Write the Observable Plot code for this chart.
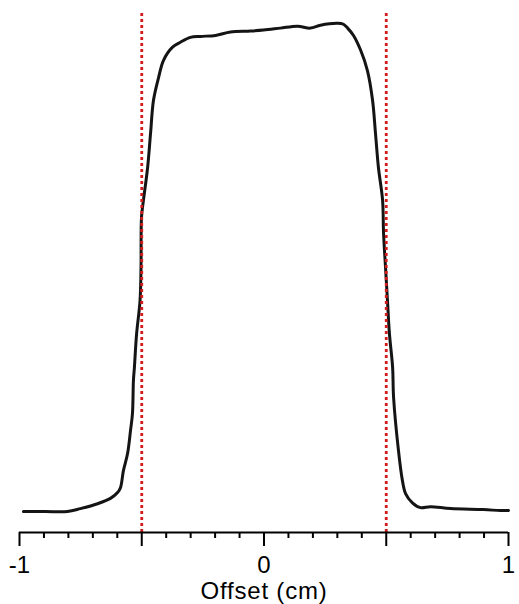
<!DOCTYPE html>
<html>
<head>
<meta charset="utf-8">
<script src="https://cdn.jsdelivr.net/npm/d3@7"></script>
<script src="https://cdn.jsdelivr.net/npm/@observablehq/plot@0.6"></script>
<style>
  html, body { margin: 0; padding: 0; background: #fff; }
  #chart { width: 519px; height: 604px; }
</style>
</head>
<body>
<div id="chart"></div>
<script>
// Profile: offset (cm) vs relative signal
const offsetCm = [-0.984, -0.894, -0.804, -0.751, -0.681, -0.628, -0.599, -0.587, -0.575, -0.558, -0.546, -0.538, -0.534, -0.530, -0.521, -0.507, -0.503, -0.501, -0.493, -0.476, -0.464, -0.452, -0.431, -0.411, -0.374, -0.342, -0.301, -0.260, -0.198, -0.137, -0.055, -0.002, 0.067, 0.137, 0.190, 0.231, 0.301, 0.325, 0.342, 0.366, 0.395, 0.423, 0.444, 0.456, 0.468, 0.485, 0.489, 0.497, 0.505, 0.513, 0.526, 0.530, 0.550, 0.566, 0.579, 0.607, 0.640, 0.681, 0.763, 0.898, 0.967, 1.0];
const signal = [-0.002, -0.002, -0.002, 0.004, 0.014, 0.025, 0.037, 0.047, 0.082, 0.117, 0.164, 0.199, 0.267, 0.294, 0.363, 0.431, 0.499, 0.602, 0.637, 0.704, 0.774, 0.842, 0.889, 0.924, 0.951, 0.961, 0.971, 0.973, 0.975, 0.982, 0.984, 0.986, 0.990, 0.994, 0.990, 0.996, 1.0, 0.998, 0.990, 0.975, 0.945, 0.903, 0.842, 0.774, 0.704, 0.637, 0.569, 0.499, 0.431, 0.363, 0.294, 0.232, 0.123, 0.062, 0.035, 0.016, 0.006, 0.008, 0.004, 0.002, 0.0, 0.0];
const edgeMarkers = [-0.5, 0.5];
const majorTicks = [-1, -0.5, 0, 0.5, 1];
const minorTicks = [-0.9, -0.8, -0.7, -0.6, -0.4, -0.3, -0.2, -0.1, 0.1, 0.2, 0.3, 0.4, 0.6, 0.7, 0.8, 0.9];
const tickLabels = {"-1": "-1", "0": "0", "1": "1"};
const xLabel = "Offset (cm)";

const yMin = -0.045, yMax = 1.02;
const data = offsetCm.map((x, i) => ({x, y: signal[i]}));

const chart = Plot.plot({
  width: 519,
  height: 604,
  marginLeft: 19,
  marginRight: 11,
  marginTop: 13,
  marginBottom: 72,
  style: {fontFamily: "'Liberation Sans', Arial, sans-serif", color: "#000", background: "#fff"},
  x: {domain: [-1, 1]},
  y: {domain: [yMin, yMax], axis: null},
  marks: [
    Plot.line(data, {x: "x", y: "y", curve: "catmull-rom", stroke: "#141414", strokeWidth: 3, strokeLinejoin: "round"}),
    Plot.ruleX(edgeMarkers, {y1: yMin, y2: yMax, stroke: "#d41c1c", strokeWidth: 2.8, strokeDasharray: "3,3"}),
    Plot.ruleY([yMin], {stroke: "#000", strokeWidth: 2}),
    Plot.axisX(minorTicks, {anchor: "bottom", tickSize: 6, tickFormat: () => "", strokeWidth: 2, label: null}),
    Plot.axisX(majorTicks, {
      anchor: "bottom", tickSize: 14, tickPadding: 9, strokeWidth: 2, fontSize: 24,
      tickFormat: d => tickLabels[String(d)] ?? "", label: null
    }),
    Plot.text([xLabel], {frameAnchor: "bottom", dy: 66, lineAnchor: "bottom", fontSize: 24, fill: "#000"})
  ]
});
chart.querySelectorAll("text").forEach(t => { if (t.textContent === xLabel) t.setAttribute("letter-spacing", "0.8"); });
document.getElementById("chart").appendChild(chart);
</script>
</body>
</html>
